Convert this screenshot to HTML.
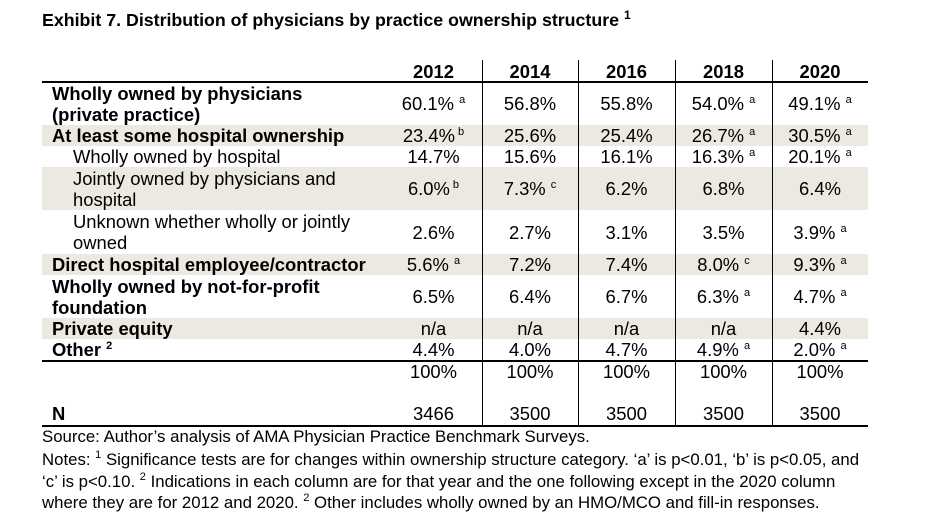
<!DOCTYPE html>
<html><head><meta charset="utf-8"><style>
body{margin:0;width:932px;height:523px;background:#fff;position:relative;font-family:"Liberation Sans",Arial,sans-serif;color:#000;overflow:hidden}
.a{position:absolute;white-space:nowrap}
.t{font-weight:bold;font-size:17.8px}
.l{font-size:18.4px;line-height:21px}
.b{font-weight:bold}
.sh{position:absolute;left:42px;width:826px;background:#ECE9E1}
.v{position:absolute;text-align:center;font-size:18.4px;white-space:nowrap}
sup{font-size:11px;vertical-align:7px;line-height:0}
.vl{position:absolute;top:60px;height:366px;width:1px;background:#000}
.hl{position:absolute;left:42px;width:826px;height:1.5px;background:#000}
.n{font-size:16.8px;line-height:21.5px}
</style></head><body>
<div class="a t" style="left:42px;top:10px">Exhibit 7. Distribution of physicians by practice ownership structure <sup style="font-size:12px">1</sup></div>

<div class="sh" style="top:125px;height:21px"></div>
<div class="sh" style="top:167px;height:43px"></div>
<div class="sh" style="top:254px;height:21px"></div>
<div class="sh" style="top:318px;height:21px"></div>

<div class="vl" style="left:482px"></div>
<div class="vl" style="left:578px"></div>
<div class="vl" style="left:675px"></div>
<div class="vl" style="left:772px"></div>
<div class="hl" style="top:81px"></div>
<div class="hl" style="top:360px"></div>
<div class="hl" style="top:425px"></div>

<div class="a l b" style="left:52px;top:83px">Wholly owned by physicians<br>(private practice)</div>
<div class="a l b" style="left:52px;top:125px">At least some hospital ownership</div>
<div class="a l" style="left:73px;top:146px">Wholly owned by hospital</div>
<div class="a l" style="left:73px;top:168px">Jointly owned by physicians and<br>hospital</div>
<div class="a l" style="left:73px;top:211px">Unknown whether wholly or jointly<br>owned</div>
<div class="a l b" style="left:52px;top:254px">Direct hospital employee/contractor</div>
<div class="a l b" style="left:52px;top:276px">Wholly owned by not-for-profit<br>foundation</div>
<div class="a l b" style="left:52px;top:318px">Private equity</div>
<div class="a l b" style="left:52px;top:339px">Other <sup>2</sup></div>
<div class="a l b" style="left:52px;top:403px">N</div>

<div id="vals"></div>
<script>
const cols=[[385,482],[482,578],[578,675],[675,772],[772,868]];
const rows=[
[61,['<b>2012</b>','<b>2014</b>','<b>2016</b>','<b>2018</b>','<b>2020</b>']],
[93,['60.1% <sup>a</sup>','56.8%','55.8%','54.0% <sup>a</sup>','49.1% <sup>a</sup>']],
[125,['23.4%<sup> b</sup>','25.6%','25.4%','26.7% <sup>a</sup>','30.5% <sup>a</sup>']],
[146,['14.7%','15.6%','16.1%','16.3% <sup>a</sup>','20.1% <sup>a</sup>']],
[178,['6.0%<sup> b</sup>','7.3% <sup>c</sup>','6.2%','6.8%','6.4%']],
[222,['2.6%','2.7%','3.1%','3.5%','3.9% <sup>a</sup>']],
[254,['5.6% <sup>a</sup>','7.2%','7.4%','8.0% <sup>c</sup>','9.3% <sup>a</sup>']],
[286,['6.5%','6.4%','6.7%','6.3% <sup>a</sup>','4.7% <sup>a</sup>']],
[318,['n/a','n/a','n/a','n/a','4.4%']],
[339,['4.4%','4.0%','4.7%','4.9% <sup>a</sup>','2.0% <sup>a</sup>']],
[361,['100%','100%','100%','100%','100%']],
[403,['3466','3500','3500','3500','3500']]];
let h='';
for(const [y,vs] of rows){vs.forEach((v,i)=>{const [x0,x1]=cols[i];h+=`<div class="v" style="left:${x0}px;width:${x1-x0}px;top:${y}px;line-height:21px">${v}</div>`;});}
document.getElementById('vals').innerHTML=h;
</script>

<div class="a n" style="left:42px;top:426px">Source: Author’s analysis of AMA Physician Practice Benchmark Surveys.</div>
<div class="a n" style="left:42px;top:449px">Notes: <sup>1</sup> Significance tests are for changes within ownership structure category. ‘a’ is p&lt;0.01, ‘b’ is p&lt;0.05, and</div>
<div class="a n" style="left:42px;top:471px">‘c’ is p&lt;0.10. <sup>2</sup> Indications in each column are for that year and the one following except in the 2020 column</div>
<div class="a n" style="left:42px;top:492px">where they are for 2012 and 2020. <sup>2</sup> Other includes wholly owned by an HMO/MCO and fill-in responses.</div>
</body></html>
